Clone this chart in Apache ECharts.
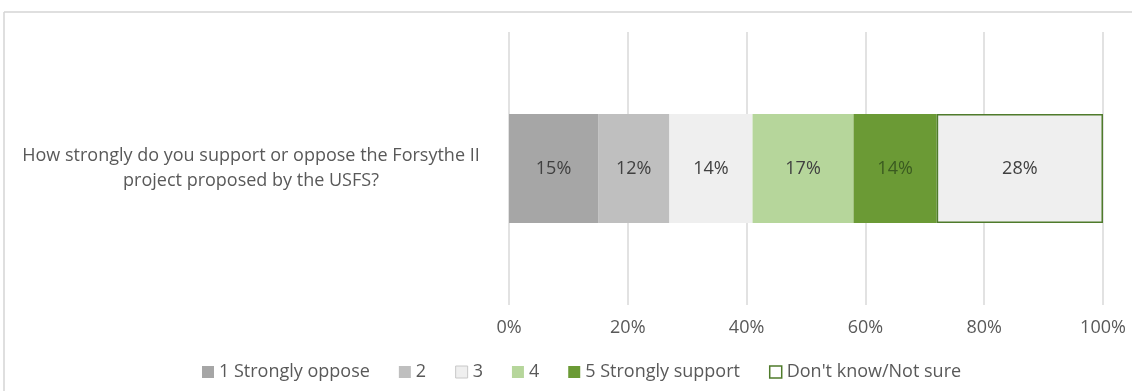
<!DOCTYPE html>
<html>
<head>
<meta charset="utf-8">
<script src="https://cdn.jsdelivr.net/npm/echarts@6/dist/echarts.min.js"></script>
<style>
  html, body { margin: 0; padding: 0; background: #fff; }
  #chart { width: 1132px; height: 391px; }
</style>
</head>
<body>
<div id="chart"></div>
<script>
// data
var categories = ['How strongly do you support or oppose the Forsythe II\nproject proposed by the USFS?'];
var seriesNames = ['1 Strongly oppose', '2', '3', '4', '5 Strongly support', "Don't know/Not sure"];
var seriesValues = [[15], [12], [14], [17], [14], [28]];
var tickValues = [0, 20, 40, 60, 80, 100];

var fills = ['#a6a6a6', '#bfbfbf', '#efefef', '#b6d69b', '#6b9a35', '#efefef'];
var labelColors = ['#404040', '#404040', '#404040', '#404040', '#3a5a20', '#404040'];
var font = 'Open Sans';

var myChart = echarts.init(document.getElementById('chart'));

var series = [];
for (var i = 0; i < seriesNames.length; i++) {
  var s = {
    name: seriesNames[i],
    type: 'bar',
    stack: 'total',
    barWidth: 109,
    data: seriesValues[i],
    itemStyle: { color: fills[i] },
    label: {
      show: true,
      position: 'inside',
      formatter: '{c}%',
      color: labelColors[i],
      fontSize: 18,
      fontFamily: font
    },
    emphasis: { disabled: true }
  };
  if (i == 5) {
    s.itemStyle.borderColor = '#4f7b2b';
    s.itemStyle.borderWidth = 1.5;
  }
  series.push(s);
}

var legendData = seriesNames.map(function (n, i) {
  var d = { name: n };
  if (i == 2) d.itemStyle = { color: '#efefef', borderColor: '#c8c8c8', borderWidth: 1 };
  if (i == 5) d.itemStyle = { color: '#ffffff', borderColor: '#4f7b2b', borderWidth: 1.5 };
  return d;
});

var option = {
  animation: false,
  textStyle: { fontFamily: font },
  grid: { left: 509, right: 29, top: 32, bottom: 86 },
  // frame lines of the chart area
  graphic: [
    { type: 'line', shape: { x1: 4, y1: 12, x2: 1132, y2: 12 }, style: { stroke: '#d4d4d4', lineWidth: 1.5 } },
    { type: 'line', shape: { x1: 4, y1: 12, x2: 4, y2: 391 }, style: { stroke: '#d4d4d4', lineWidth: 1.5 } }
  ],
  legend: {
    top: 358,
    left: 197,
    itemWidth: 12,
    itemHeight: 12,
    itemGap: 29,
    icon: 'rect',
    selectedMode: false,
    textStyle: { color: '#595959', fontSize: 18, fontFamily: font },
    data: legendData
  },
  xAxis: {
    type: 'value',
    min: tickValues[0],
    max: tickValues[tickValues.length - 1],
    interval: tickValues[1] - tickValues[0],
    axisLine: { show: false },
    axisTick: { show: false },
    axisLabel: { formatter: '{value}%', color: '#595959', fontSize: 18, margin: 14 },
    splitLine: { lineStyle: { color: '#d9d9d9', width: 1.5 } }
  },
  yAxis: {
    type: 'category',
    data: categories,
    axisLine: { show: false },
    axisTick: { show: false },
    axisLabel: {
      color: '#595959',
      fontSize: 18,
      align: 'center',
      margin: 258,
      lineHeight: 25,
      padding: [6, 0, 0, 0]
    }
  },
  series: series
};

myChart.setOption(option);
</script>
</body>
</html>
